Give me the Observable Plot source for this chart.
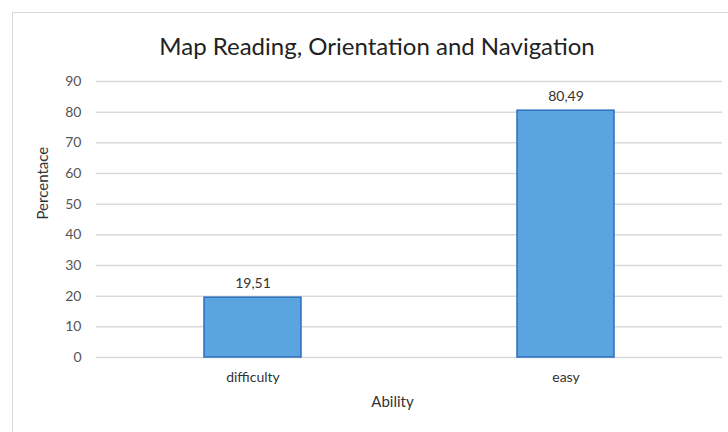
<!DOCTYPE html>
<html>
<head>
<meta charset="utf-8">
<script src="https://cdn.jsdelivr.net/npm/d3@7"></script>
<script src="https://cdn.jsdelivr.net/npm/@observablehq/plot@0.6"></script>
<style>
  html, body { margin: 0; padding: 0; background: #fff; }
  #wrap { position: relative; width: 728px; height: 432px; overflow: hidden; font-family: Lato, "Open Sans", sans-serif; }
  #frame { position: absolute; left: 12px; top: 12px; width: 800px; height: 600px; border: 1.5px solid #d9d9d9; box-sizing: border-box; }
  #title { position: absolute; left: 0; top: 31px; width: 754px; text-align: center; font-size: 24px; color: #222; }
  #chart { position: absolute; left: 0; top: 0; }
</style>
</head>
<body>
<div id="wrap">
  <div id="frame"></div>
  <div id="title">Map Reading, Orientation and Navigation</div>
  <div id="chart"></div>
</div>
<script>
const categories = ["difficulty", "easy"];
const values = [19.51, 80.49];
const valueLabels = ["19,51", "80,49"];
const yTicks = [0, 10, 20, 30, 40, 50, 60, 70, 80, 90];
const xTitle = "Ability";
const yTitle = "Percentace";

const data = categories.map((c, i) => ({ cat: c, v: values[i], lab: valueLabels[i] }));

const plot = Plot.plot({
  width: 728,
  height: 432,
  marginTop: 81,
  marginBottom: 75,
  marginLeft: 96,
  marginRight: 6,
  style: { fontFamily: "Lato, 'Open Sans', sans-serif", fontSize: "14px", color: "#404040", background: "transparent" },
  x: { domain: categories, paddingInner: 0.69, paddingOuter: 0.345, label: null },
  y: { domain: [0, 90], label: null },
  marks: [
    Plot.ruleY(yTicks, { stroke: "#d9d9d9", strokeWidth: 1.5 }),
    Plot.barY(data, { x: "cat", y: "v", fill: "#5aa5e0", stroke: "#2f6fbd", strokeWidth: 1.5, inset: 0 }),
    Plot.text(data, { x: "cat", y: "v", text: "lab", dy: -14, fontSize: 14, fill: "#333" }),
    Plot.axisY({ ticks: yTicks, tickSize: 0, tickPadding: 15, fontSize: 14, fill: "#555", label: null }),
    Plot.axisX({ tickSize: 0, tickPadding: 15, fontSize: 14, fill: "#333", label: null }),
    Plot.text([yTitle], { frameAnchor: "left", dx: -53, rotate: -90, fontSize: 15, fill: "#333" }),
    Plot.text([xTitle], { frameAnchor: "bottom", dx: -17, dy: 49, fontSize: 15, fill: "#333" })
  ]
});
document.getElementById("chart").appendChild(plot);
</script>
</body>
</html>
